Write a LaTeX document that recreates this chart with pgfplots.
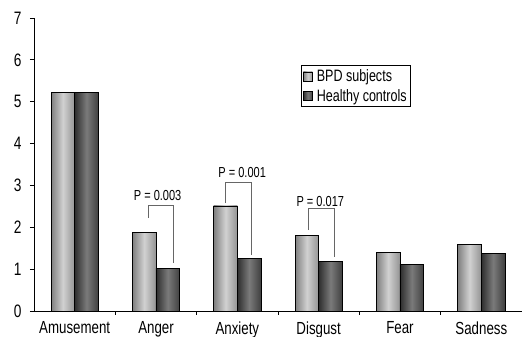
\documentclass[border=0pt]{standalone}
\usepackage{fontspec}
\setmainfont{Liberation Sans}[FakeStretch=0.76]
\usepackage{pgfplots}
\pgfplotsset{compat=1.18}
\pgfplotsset{
  bpd/.style={ybar, bar width=0.29, bar shift=-0.145, draw=black, line width=0.8pt,
    left color=black!50, right color=black!42, middle color=black!18},
  hc/.style={ybar, bar width=0.29, bar shift=0.145, draw=black, line width=0.8pt,
    left color=black!82, right color=black!75, middle color=black!52},
  brk/.style={black!60, line width=0.9pt, sharp plot, forget plot},
}
\begin{document}
\begin{tikzpicture}
\begin{axis}[
  scale only axis, width=488pt, height=293pt,
  xmin=-0.5, xmax=5.5, ymin=0, ymax=7,
  axis lines=left, axis line style={-, line width=0.8pt},
  ytick={0,...,7},
  xtick={0.5,1.5,2.5,3.5,4.5}, xticklabels={},
  extra x ticks={0,1,2,3,4,5},
  extra x tick labels={Amusement,Anger,Anxiety,Disgust,Fear,Sadness},
  extra x tick style={tick style={draw=none}},
  tick align=outside, major tick length=4pt,
  tick style={black, line width=0.8pt},
  /pgf/number format/assume math mode=true,
  yticklabel style={font=\fontsize{18}{20}\selectfont, xshift=-5pt},
  xticklabel style={font=\fontsize{17.5}{20}\selectfont, yshift=-3pt},
  legend style={at={(axis cs:2.78,5.87)}, anchor=north west, draw=black, line width=0.8pt,
    font=\fontsize{16.5}{18}\selectfont, inner sep=2pt, row sep=2pt, column sep=2pt,
    cells={anchor=west}},
  legend image code/.code={\draw[#1, line width=0.6pt] (0pt,-4.5pt) rectangle (9pt,4.5pt);},
  clip=false,
]
\addplot[bpd] coordinates {(0,5.22)};
\addlegendentry{BPD subjects}
\addplot[hc] coordinates {(0,5.22)};
\addlegendentry{Healthy controls}
\addplot[bpd, forget plot] coordinates {(1,1.88)};
\addplot[bpd, forget plot] coordinates {(2,2.51)};
\addplot[bpd, forget plot] coordinates {(3,1.81)};
\addplot[bpd, forget plot] coordinates {(4,1.40)};
\addplot[bpd, forget plot] coordinates {(5,1.59)};
\addplot[hc, forget plot] coordinates {(1,1.02)};
\addplot[hc, forget plot] coordinates {(2,1.25)};
\addplot[hc, forget plot] coordinates {(3,1.18)};
\addplot[hc, forget plot] coordinates {(4,1.11)};
\addplot[hc, forget plot] coordinates {(5,1.38)};
\addplot[brk] coordinates {(0.91,2.22) (0.91,2.53) (1.21,2.53) (1.21,1.15)};
\addplot[brk] coordinates {(1.86,2.58) (1.86,3.06) (2.17,3.06) (2.17,1.34)};
\addplot[brk] coordinates {(2.87,1.93) (2.87,2.46) (3.19,2.46) (3.19,1.30)};
\node[font=\fontsize{14.5}{16}\selectfont] at (axis cs:1.02,2.77) {P = 0.003};
\node[font=\fontsize{14.5}{16}\selectfont] at (axis cs:2.06,3.30) {P = 0.001};
\node[font=\fontsize{14.5}{16}\selectfont] at (axis cs:3.02,2.61) {P = 0.017};
\end{axis}
\pgfresetboundingbox
\path (current axis.south west) ++(-34pt,-26pt) rectangle ++(522pt,337pt);
\end{tikzpicture}
\end{document}
